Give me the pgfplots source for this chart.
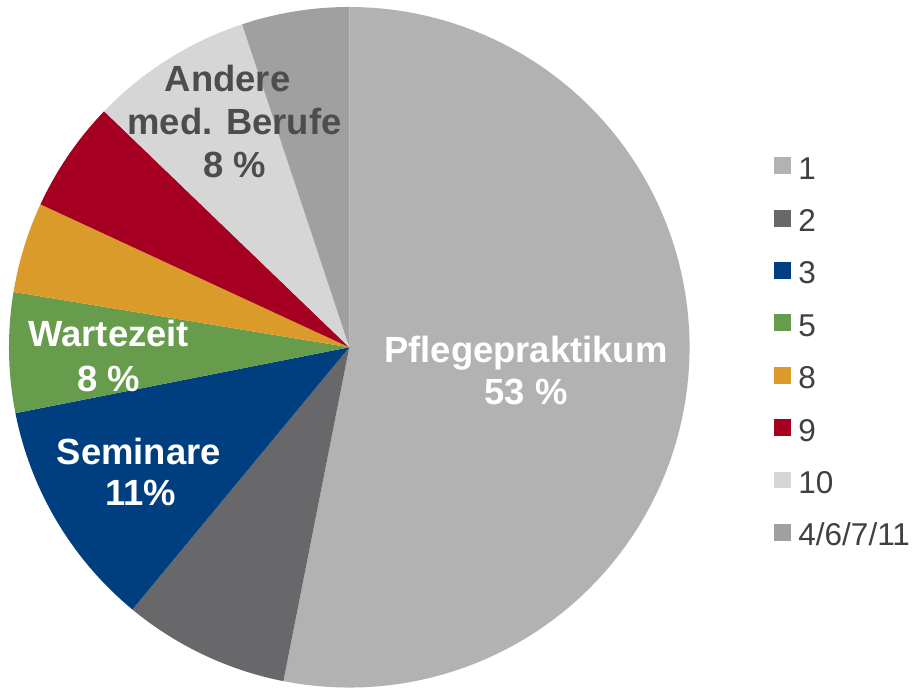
\documentclass[border=0pt]{standalone}
\usepackage{pgfplots}
\pgfplotsset{compat=1.18}
\usepackage{pgfplotstable}
\usepackage{fontspec}
\setmainfont{Liberation Sans}

\definecolor{c1}{HTML}{B2B2B2}
\definecolor{c2}{HTML}{68686A}
\definecolor{c3}{HTML}{003F7F}
\definecolor{c5}{HTML}{669C4C}
\definecolor{c8}{HTML}{DA9B2B}
\definecolor{c9}{HTML}{A50021}
\definecolor{c10}{HTML}{D6D6D6}
\definecolor{c11}{HTML}{A0A0A0}
\definecolor{legtext}{HTML}{404040}
\definecolor{darklbl}{HTML}{4D4D4D}

% slice shares in percent, clockwise from 12 o'clock
\pgfplotstableread{
label     value  color
1         53.1   c1
2         7.9    c2
3         10.9   c3
5         5.7    c5
8         4.3    c8
9         5.3    c9
10        7.7    c10
4/6/7/11  5.1    c11
}\piedata

\newcommand\lblfont{\fontsize{18.25}{21}\bfseries\selectfont}
% x, y (axis units = px), colour, text
\newcommand\pielabel[4]{%
  \node[anchor=base, font=\lblfont, text=#3] at (axis cs:#1,#2) {#4};
}

\begin{document}
\begin{tikzpicture}
\begin{axis}[
  scale only axis, width=458.5pt, height=344.5pt,
  xmin=-350, xmax=567, ymin=-341, ymax=348,
  hide axis,
  legend image code/.code={\fill[#1] (0pt,-4.25pt) rectangle (8.5pt,4.25pt);},
  legend cell align=left,
  legend style={draw=none, fill=none, at={(axis cs:426,195.5)}, anchor=north west,
    inner sep=0pt, outer sep=0pt, font=\fontsize{15.8}{18}\selectfont, text=legtext,
    row sep=12.75pt,
    nodes={inner xsep=3.5pt, inner ysep=0pt, text height=13.5pt, text depth=0pt}},
]
\path (rel axis cs:0,0) rectangle (rel axis cs:1,1);
\def\cum{0}
\pgfplotsforeachungrouped \i in {0,...,7}{%
  \pgfplotstablegetelem{\i}{value}\of\piedata \let\v\pgfplotsretval
  \pgfplotstablegetelem{\i}{color}\of\piedata \let\c\pgfplotsretval
  \pgfplotstablegetelem{\i}{label}\of\piedata \let\l\pgfplotsretval
  \pgfmathsetmacro\e{\cum+\v}%
  \edef\temp{\noexpand\addplot[draw=none, fill=\c, domain=\cum:\e, samples=100]
    ({341*cos(90-3.6*x)}, {341*sin(90-3.6*x)}) -- (axis cs:0,0) -- cycle;
    \noexpand\addlegendentry{\l}}%
  \temp
  \let\cum\e
}

\pielabel{177}{-15}{white}{Pflegepraktikum}
\pielabel{177}{-57}{white}{53 \%}
\pielabel{-122}{256}{darklbl}{Andere}
\pielabel{-115}{213}{darklbl}{med. Berufe}
\pielabel{-115}{170}{darklbl}{8 \%}
\pielabel{-241}{1}{white}{Wartezeit}
\pielabel{-241}{-44}{white}{8 \%}
\pielabel{-211}{-117}{white}{Seminare}
\pielabel{-209}{-159}{white}{11\%}
\end{axis}
\end{tikzpicture}
\end{document}
